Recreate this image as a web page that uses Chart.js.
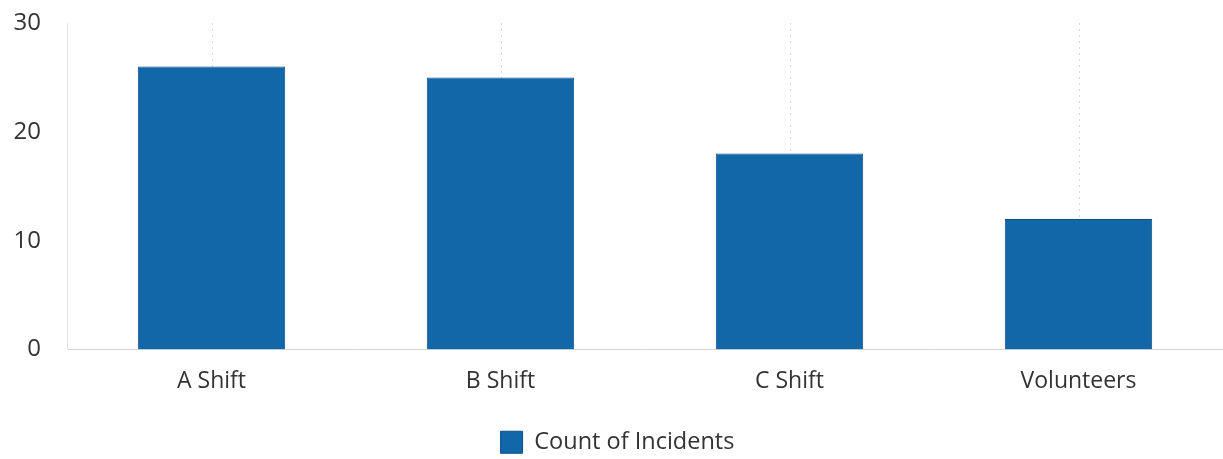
<!DOCTYPE html>
<html>
<head>
<meta charset="utf-8">
<script src="https://cdn.jsdelivr.net/npm/chart.js@4"></script>
<style>
    html, body { margin: 0; padding: 0; background: #fff; }
    #wrap { width: 1223px; height: 459px; position: relative; }
</style>
</head>
<body>
<div id="wrap"><canvas id="chartCanvas"></canvas></div>
<script>
const categories = ["A Shift", "B Shift", "C Shift", "Volunteers"];
const incidentCounts = [26, 25, 18, 12];
const seriesLabel = "Count of Incidents";
const yTicks = [0, 10, 20, 30];

document.addEventListener("DOMContentLoaded", function () {
    const ctx = document.getElementById("chartCanvas").getContext("2d");

    window.chart = new Chart(ctx, {
        type: "bar",
        data: {
            labels: categories,
            datasets: [{
                label: seriesLabel,
                data: incidentCounts,
                backgroundColor: "#1167a8",
                borderColor: "#0d4e8c",
                borderWidth: 1,
                categoryPercentage: 1,
                barPercentage: 0.51
            }]
        },
        options: {
            responsive: true,
            maintainAspectRatio: false,
            animation: false,
            layout: {
                padding: { top: 0, left: 12, right: 0, bottom: -5 }
            },
            plugins: {
                tooltip: { enabled: false },
                legend: {
                    position: "bottom",
                    labels: {
                        font: { family: "Open Sans", size: 23.5 },
                        color: "#333",
                        boxWidth: 22,
                        boxHeight: 22,
                        padding: 2
                    }
                }
            },
            scales: {
                x: {
                    grid: {
                        display: false,
                        drawTicks: false
                    },
                    border: { color: "#d6d6d6", dash: [3, 2] },
                    ticks: {
                        font: { family: "Open Sans", size: 23 },
                        color: "#333",
                        padding: 18
                    },
                    afterFit: function (axis) {
                        axis.paddingLeft = 0;
                        axis.paddingRight = 0;
                        axis.height = 79;
                    }
                },
                y: {
                    min: 0,
                    max: 30,
                    afterBuildTicks: function (axis) {
                        axis.ticks = yTicks.map(v => ({ value: v }));
                    },
                    grid: { display: false, drawTicks: false },
                    border: { color: "#e4e4e4" },
                    ticks: {
                        font: { family: "Open Sans", size: 24 },
                        color: "#333",
                        padding: 26
                    },
                    afterFit: function (axis) {
                        axis.width = 55;
                        axis.paddingTop = 23;
                        axis.paddingBottom = 0;
                    }
                }
            }
        },
        plugins: [{
            id: "dottedGrid",
            beforeDatasetsDraw: function (chart) {
                const c = chart.ctx;
                const area = chart.chartArea;
                const xs = chart.scales.x;
                c.save();
                c.strokeStyle = "#dadada";
                c.lineWidth = 1;
                c.setLineDash([2, 4]);
                categories.forEach((cat, i) => {
                    const x = Math.round(xs.getPixelForValue(i)) + 0.5;
                    c.beginPath();
                    c.moveTo(x, area.top);
                    c.lineTo(x, area.bottom);
                    c.stroke();
                });
                c.restore();
            }
        }]
    });
});
</script>
</body>
</html>
